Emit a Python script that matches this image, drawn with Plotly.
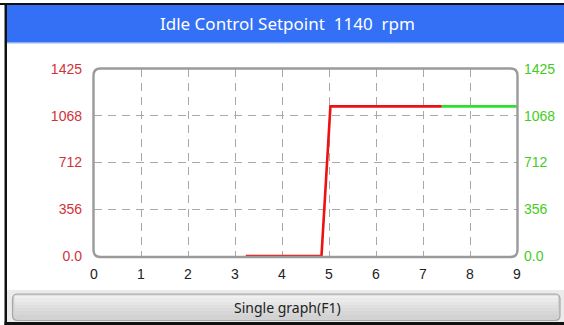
import plotly.graph_objects as go

W, H = 564, 325

# Idle control setpoint trace (rpm over seconds)
red_x = [3.23, 4.84, 5.03, 7.4]
red_y = [0, 0, 1140, 1140]
green_x = [7.4, 9.0]
green_y = [1140, 1140]

y_ticks = [0, 356, 712, 1068, 1425]
y_tick_labels = ["0.0", "356", "712", "1068", "1425"]
x_ticks = list(range(10))
title_text = "Idle Control Setpoint\u00a0\u00a01140\u00a0\u00a0rpm"
button_text = "Single graph(F1)"


def px(x):
    return x / W


def py(y):
    return 1 - y / H


def rounded_rect(x0, y0, x1, y1, r):
    """Rounded rectangle path in paper units from pixel coordinates."""
    pts = [
        f"M {px(x0 + r)} {py(y0)}",
        f"L {px(x1 - r)} {py(y0)}",
        f"Q {px(x1)} {py(y0)} {px(x1)} {py(y0 + r)}",
        f"L {px(x1)} {py(y1 - r)}",
        f"Q {px(x1)} {py(y1)} {px(x1 - r)} {py(y1)}",
        f"L {px(x0 + r)} {py(y1)}",
        f"Q {px(x0)} {py(y1)} {px(x0)} {py(y1 - r)}",
        f"L {px(x0)} {py(y0 + r)}",
        f"Q {px(x0)} {py(y0)} {px(x0 + r)} {py(y0)}",
        "Z",
    ]
    return " ".join(pts)


def rect(x0, y0, x1, y1, color, layer="below"):
    return dict(type="rect", xref="paper", yref="paper",
                x0=px(x0), x1=px(x1), y0=py(y1), y1=py(y0),
                fillcolor=color, line_width=0, layer=layer)


fig = go.Figure()
fig.add_trace(go.Scatter(x=red_x, y=red_y, mode="lines",
                         line=dict(color="#ee1111", width=2.6),
                         hoverinfo="skip", showlegend=False))
fig.add_trace(go.Scatter(x=green_x, y=green_y, mode="lines", yaxis="y2",
                         line=dict(color="#2ee02a", width=2.6),
                         hoverinfo="skip", showlegend=False))

shapes = [
    # frame and title bar
    rect(0, 3, W, 5, "#111111"),
    rect(4.5, 3, 7, H, "#111111"),
    rect(7, 5, W, 42, "#3370f6"),
    rect(7, 42, W, 43.5, "#8fb0ee"),
    # button strip
    rect(7, 290, W, 322, "#ebebeb"),
    rect(4.5, 322, W, H, "#111111"),
]

# button with a soft vertical gradient
bx0, by0, bx1, by1 = 12.5, 294, 560, 320.5
grad = ["#f0f0f0", "#ebebeb", "#e6e6e6", "#e1e1e1", "#dcdcdc", "#d7d7d7", "#d2d2d2"]
shapes.append(dict(type="path", xref="paper", yref="paper",
                   path=rounded_rect(bx0, by0, bx1, by1, 5),
                   fillcolor=grad[-1], line=dict(color="#a8a8a8", width=1.2),
                   layer="below"))
n = len(grad)
step = (by1 - by0 - 4) / n
for i, c in enumerate(grad[:-1]):
    shapes.append(rect(bx0 + 2, by0 + 1.5 + i * step, bx1 - 2,
                       by0 + 1.5 + (i + 1) * step, c))

# plot box with rounded corners
shapes.append(dict(type="path", xref="paper", yref="paper",
                   path=rounded_rect(93.5, 68.5, 517.5, 257, 7),
                   line=dict(color="#9a9a9a", width=2.4),
                   fillcolor="rgba(0,0,0,0)", layer="above"))

tick_font = dict(family="Liberation Sans, Arial, sans-serif", size=14)

fig.update_layout(
    template="none",
    width=W, height=H,
    margin=dict(l=0, r=0, t=0, b=0, pad=0, autoexpand=False),
    paper_bgcolor="white", plot_bgcolor="rgba(0,0,0,0)",
    shapes=shapes,
    xaxis=dict(domain=[px(94), px(517)], range=[0, 9], automargin=False,
               tickvals=x_ticks, ticktext=[str(v) for v in x_ticks],
               showgrid=True, gridcolor="#a8a8a8", gridwidth=1,
               griddash="8px,6px", zeroline=False, showline=False,
               ticks="", ticklabelstandoff=8,
               tickfont=dict(color="#222222", **tick_font), fixedrange=True),
    yaxis=dict(domain=[py(256), py(69)], range=[0, 1425], automargin=False,
               tickvals=y_ticks, ticktext=y_tick_labels,
               showgrid=True, gridcolor="#a8a8a8", gridwidth=1,
               griddash="8px,6px", zeroline=False, showline=False,
               ticks="", ticklabelstandoff=11,
               tickfont=dict(color="#d0323a", **tick_font), fixedrange=True),
    yaxis2=dict(overlaying="y", side="right", range=[0, 1425], automargin=False,
                tickvals=y_ticks, ticktext=y_tick_labels,
                showgrid=False, zeroline=False, showline=False,
                ticks="", ticklabelstandoff=6,
                tickfont=dict(color="#44cc22", **tick_font), fixedrange=True),
    annotations=[
        dict(text=title_text, xref="paper", yref="paper",
             x=px(287), y=py(23), xanchor="center", yanchor="middle",
             showarrow=False,
             font=dict(family="Noto Sans", size=17, color="white")),
        dict(text=button_text, xref="paper", yref="paper",
             x=px(287), y=py(307.5), xanchor="center", yanchor="middle",
             showarrow=False,
             font=dict(family="Noto Sans", size=14, color="#222222")),
    ],
)

fig.write_html(
    "out.html",
    config={"displayModeBar": False},
    post_script=(
        "document.body.style.margin='0';"
        "document.body.style.overflow='hidden';"
        "document.documentElement.style.overflow='hidden';"
    ),
)
